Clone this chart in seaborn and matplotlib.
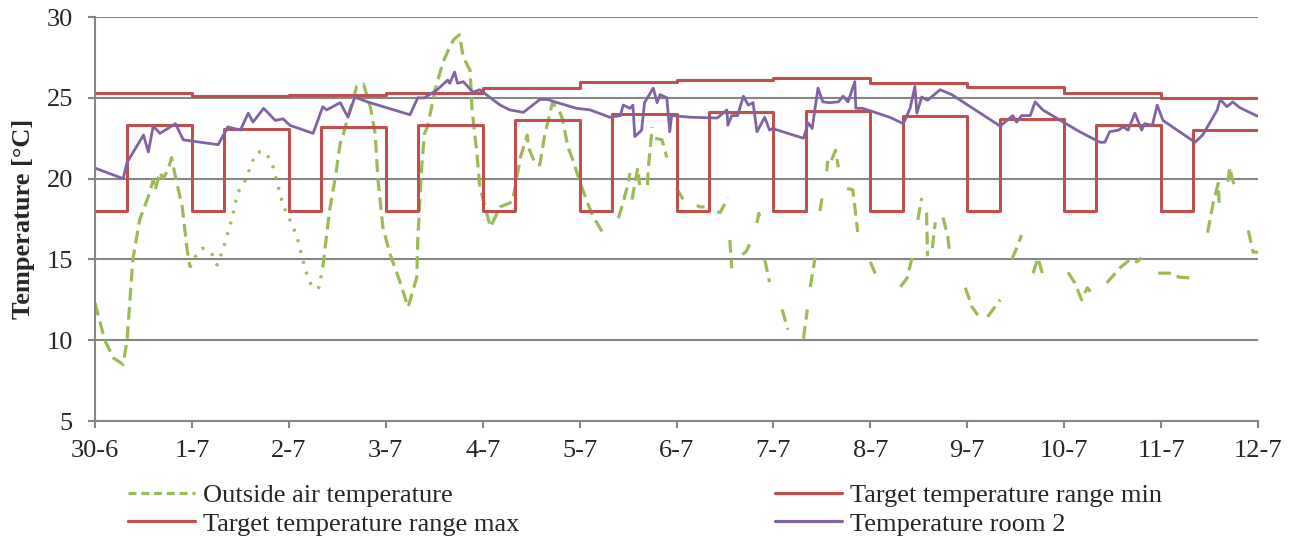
import matplotlib
matplotlib.use("Agg")
import matplotlib.pyplot as plt
from matplotlib.lines import Line2D
import seaborn as sns
import pandas as pd
import numpy as np

# ---- data -------------------------------------------------------------
DAY_LABELS = ["30-6", "1-7", "2-7", "3-7", "4-7", "5-7", "6-7",
              "7-7", "8-7", "9-7", "10-7", "11-7", "12-7"]

# setpoints: night (00-08h) min is 18, day (08-24h) min per day, max per day
SWITCH_HOUR = 8
NIGHT_MIN = 18.0
DAY_MIN = [23.3, 23.1, 23.2, 23.3, 23.6, 24.0, 24.1, 24.2, 23.9, 23.7, 23.3, 23.0]
DAY_MAX = [25.3, 25.1, 25.2, 25.3, 25.6, 26.0, 26.1, 26.2, 25.9, 25.7, 25.3, 25.0]

ROOM_DAY = [0.00, 0.29, 0.33, 0.50, 0.55, 0.60, 0.67, 0.83, 0.91, 1.27, 1.37,
            1.50, 1.58, 1.63, 1.74, 1.86, 1.94, 2.01, 2.25, 2.35, 2.39, 2.53,
            2.61, 2.68, 2.81, 3.25, 3.33, 3.40, 3.53, 3.64, 3.66, 3.71, 3.74,
            3.80, 3.90, 3.97, 4.18, 4.28, 4.42, 4.59, 4.67, 4.77, 4.97, 5.11,
            5.31, 5.42, 5.45, 5.52, 5.55, 5.57, 5.64, 5.67, 5.76, 5.80, 5.83,
            5.90, 5.93, 5.95, 6.14, 6.42, 6.52, 6.53, 6.57, 6.63, 6.69, 6.74,
            6.79, 6.83, 6.88, 6.91, 6.96, 6.99, 7.31, 7.36, 7.40, 7.46, 7.51,
            7.58, 7.67, 7.72, 7.77, 7.84, 7.85, 7.92, 8.20, 8.34, 8.41, 8.46,
            8.48, 8.53, 8.59, 8.72, 8.80, 8.84, 9.34, 9.47, 9.51, 9.56, 9.65,
            9.70, 9.78, 10.16, 10.37, 10.42, 10.47, 10.56, 10.61, 10.66, 10.73,
            10.80, 10.83, 10.91, 10.96, 11.02, 11.35, 11.43, 11.58, 11.61,
            11.68, 11.74, 11.81, 12.00]
ROOM_TEMP = [20.65, 20.0, 21.0, 22.7, 21.65, 23.25, 22.8, 23.4, 22.4, 22.1, 23.2,
             23.0, 24.05, 23.5, 24.35, 23.6, 23.7, 23.3, 22.8, 24.45, 24.25, 24.7,
             23.8, 25.05, 24.75, 23.95, 25.0, 25.0, 25.5, 26.1, 25.9, 26.6, 25.9,
             26.0, 25.35, 25.5, 24.55, 24.25, 24.1, 24.9, 24.9, 24.7, 24.35, 24.25,
             23.8, 23.9, 24.55, 24.35, 24.55, 22.6, 23.0, 24.7, 25.6, 24.7, 25.2,
             25.0, 22.9, 23.9, 23.8, 23.75, 24.25, 23.3, 23.9, 23.9, 25.1, 24.55,
             24.7, 22.9, 23.45, 23.8, 23.0, 23.1, 22.5, 23.45, 23.1, 25.6, 24.75,
             24.7, 24.75, 25.1, 24.75, 26.0, 24.35, 24.35, 23.8, 23.4, 24.35, 25.7,
             24.05, 25.05, 24.85, 25.5, 25.3, 25.2, 23.25, 23.9, 23.5, 23.9, 23.9,
             24.75, 24.25, 22.9, 22.25, 22.25, 22.9, 23.0, 23.2, 23.0, 24.05,
             23.0, 23.4, 23.3, 24.55, 23.6, 22.25, 22.7, 24.25, 24.9,
             24.45, 24.75, 24.4, 23.85]

# outside air: dotted stretch of the logger, then dashed with gaps (nan)
OUT_DOT_DAY = [0.98, 1.03, 1.11, 1.21, 1.26, 1.32, 1.41, 1.47, 1.55, 1.63, 1.68,
               1.75, 1.78, 1.84, 1.94, 2.01, 2.08, 2.17, 2.24, 2.31, 2.35]
OUT_DOT_TEMP = [14.5, 15.15, 15.7, 15.3, 14.65, 15.6, 17.45, 19.1, 19.9, 21.15, 21.65,
                21.65, 21.45, 20.65, 18.35, 17.45, 16.5, 14.35, 13.25, 13.25, 14.5]

OUT_DAY = [0.00, 0.10, 0.19, 0.29, 0.33, 0.39, 0.46, 0.55, 0.60, 0.62, 0.67,
           0.70, 0.75, 0.79, 0.83, 0.90, 0.95, 0.98, np.nan,
           2.35, 2.42, 2.48, 2.53, 2.56, 2.60, 2.65, 2.70, 2.77, 2.84, 2.89,
           2.92, 2.97, 3.04, 3.15, 3.23, 3.32, 3.33, 3.37, 3.40, 3.43, 3.51,
           3.59, 3.66, 3.70, 3.76, 3.80, 3.87, 3.89, 3.94, 3.97, 4.08, 4.18,
           4.30, 4.33, 4.39, 4.46, 4.47, 4.54, 4.59, 4.61, 4.64, 4.66, 4.72,
           4.80, 4.82, 4.88, 4.93, 5.02, 5.13, 5.21, 5.26, np.nan,
           5.40, 5.45, 5.50, 5.52, np.nan,
           5.54, 5.57, 5.60, 5.62, np.nan,
           5.70, 5.71, 5.75, np.nan,
           5.78, 5.85, 5.90, np.nan,
           6.00, 6.07, np.nan,
           6.21, 6.24, 6.29, np.nan,
           6.42, 6.45, 6.53, np.nan,
           6.55, 6.57, np.nan,
           6.68, 6.72, 6.76, np.nan,
           6.83, 6.85, 6.86, np.nan,
           6.91, 6.96, np.nan,
           7.09, 7.15, np.nan,
           7.31, 7.35, np.nan,
           7.38, 7.43, np.nan,
           7.48, 7.51, np.nan,
           7.55, 7.56, np.nan,
           7.60, 7.64, 7.67, np.nan,
           7.76, 7.82, 7.87, np.nan,
           8.00, 8.07, np.nan,
           8.31, 8.38, 8.43, np.nan,
           8.49, 8.53, np.nan,
           8.58, 8.59, np.nan,
           8.64, 8.67, np.nan,
           8.75, 8.80, 8.82, np.nan,
           8.98, 9.05, 9.11, np.nan,
           9.21, 9.34, np.nan,
           9.46, 9.51, 9.56, np.nan,
           9.68, 9.73, 9.78, np.nan,
           10.04, 10.11, 10.18, 10.24, 10.27, np.nan,
           10.44, 10.58, 10.68, 10.75, 10.80, np.nan,
           10.97, 11.09, 11.19, 11.32, np.nan,
           11.48, 11.54, 11.59, 11.60, np.nan,
           11.69, 11.71, 11.73, 11.76, np.nan,
           11.90, 11.95, 12.00]
OUT_TEMP = [12.3, 10.0, 8.9, 8.5, 10.0, 15.0, 17.45, 18.9, 19.9, 19.3, 20.4,
            20.0, 20.5, 21.3, 20.1, 18.25, 15.6, 14.5, np.nan,
            14.5, 18.05, 20.1, 22.2, 22.7, 23.6, 24.65, 25.7, 25.85, 24.45, 22.8,
            19.9, 17.0, 15.4, 13.55, 12.05, 13.9, 16.2, 20.7, 22.8, 23.2, 25.5,
            27.2, 28.15, 28.6, 28.9, 27.5, 26.7, 24.25, 21.6, 19.5, 17.0, 18.25,
            18.55, 19.3, 21.35, 22.7, 21.95, 20.95, 20.85, 21.6, 22.7, 23.2, 24.7,
            24.05, 23.75, 21.95, 21.15, 19.5, 17.75, 16.95, 16.4, np.nan,
            17.55, 18.55, 19.7, 20.35, np.nan,
            18.7, 19.7, 20.65, 19.6, np.nan,
            19.6, 20.7, 23.2, np.nan,
            22.5, 22.4, 21.3, np.nan,
            19.4, 18.7, np.nan,
            18.35, 18.25, 18.25, np.nan,
            17.95, 17.9, 18.8, np.nan,
            16.2, 14.45, np.nan,
            15.3, 15.5, 16.0, np.nan,
            17.25, 17.85, 17.3, np.nan,
            15.0, 13.6, np.nan,
            11.9, 10.65, np.nan,
            10.1, 11.9, np.nan,
            13.3, 15.1, np.nan,
            18.0, 19.1, np.nan,
            20.45, 21.1, np.nan,
            21.15, 21.75, 20.7, np.nan,
            19.4, 19.3, 16.7, np.nan,
            14.85, 13.85, np.nan,
            13.3, 13.85, 15.1, np.nan,
            17.45, 18.8, np.nan,
            17.9, 15.2, np.nan,
            15.7, 17.3, np.nan,
            17.6, 16.4, 15.3, np.nan,
            13.25, 12.05, 11.55, np.nan,
            11.45, 12.5, np.nan,
            15.0, 15.7, 16.5, np.nan,
            14.15, 15.1, 14.05, np.nan,
            14.2, 13.55, 12.5, 13.25, 13.0, np.nan,
            13.55, 14.5, 15.0, 14.85, 15.1, np.nan,
            14.15, 14.15, 13.9, 13.85, np.nan,
            16.65, 18.55, 19.7, 18.5, np.nan,
            19.8, 20.7, 20.1, 19.5, np.nan,
            16.8, 15.45, 15.45]

GREEN = "#9BBB59"
RED = "#C0504D"
PURPLE = "#8064A2"
GRID = "#868686"

# ---- tables -------------------------------------------------------------
n_days = len(DAY_MIN)
min_day, min_temp = [], []
for d in range(n_days):
    min_day += [d, d + SWITCH_HOUR / 24]
    min_temp += [NIGHT_MIN, DAY_MIN[d]]
min_day.append(n_days)
min_temp.append(DAY_MIN[-1])
setpoint_min = pd.DataFrame({"day": min_day, "temp": min_temp})
setpoint_max = pd.DataFrame({"day": list(range(n_days)) + [n_days],
                             "temp": DAY_MAX + [DAY_MAX[-1]]})

room = pd.DataFrame({"day": ROOM_DAY, "temp": ROOM_TEMP})

outside = pd.DataFrame({"day": OUT_DAY, "temp": OUT_TEMP})
outside["seg"] = outside["temp"].isna().cumsum()
outside = outside.dropna()
outside_dot = pd.DataFrame({"day": OUT_DOT_DAY, "temp": OUT_DOT_TEMP})

# ---- plot ---------------------------------------------------------------
sns.set_style("white")
plt.rcParams["font.family"] = ["Liberation Serif", "DejaVu Serif"]
plt.rcParams["font.size"] = 19

fig = plt.figure(figsize=(12.95, 5.42), dpi=100)
ax = fig.add_axes([0.0734, 0.2232, 0.8980, 0.7454])

sns.lineplot(data=outside, x="day", y="temp", units="seg", estimator=None,
             color=GREEN, lw=2.3, linestyle=(0, (4, 2)), ax=ax)
sns.lineplot(data=outside_dot, x="day", y="temp", estimator=None,
             color=GREEN, lw=2.3, linestyle=(0, (0.9, 2.6)), ax=ax)
sns.lineplot(data=setpoint_min, x="day", y="temp", estimator=None,
             color=RED, lw=2.2, drawstyle="steps-post", ax=ax)
sns.lineplot(data=setpoint_max, x="day", y="temp", estimator=None,
             color=RED, lw=2.2, drawstyle="steps-post", ax=ax)
sns.lineplot(data=room, x="day", y="temp", estimator=None,
             color=PURPLE, lw=2.0, ax=ax)

ax.set_xlim(0, 12)
ax.set_ylim(5, 30)
ax.set_xticks(range(len(DAY_LABELS)))
ax.set_xticklabels(DAY_LABELS)
ax.set_yticks(range(5, 31, 5))
ax.set_xlabel("")
ax.set_ylabel("Temperature [°C]", fontweight="bold", fontsize=19)
ax.yaxis.set_label_coords(-0.052, 0.5)

ax.grid(axis="y", color=GRID, lw=1.5)
ax.grid(axis="x", visible=False)
ax.set_axisbelow(True)
for side in ["top", "right"]:
    ax.spines[side].set_visible(False)
for side in ["left", "bottom"]:
    ax.spines[side].set_color(GRID)
    ax.spines[side].set_linewidth(1.5)
ax.tick_params(axis="x", direction="out", length=5, width=1.5, color=GRID,
               pad=9, labelsize=19, bottom=True)
ax.tick_params(axis="y", direction="out", length=5, width=1.5, color=GRID,
               pad=11, labelsize=19, left=True)

handles = [
    Line2D([], [], color=GREEN, lw=2.3, linestyle=(0, (2.5, 1.5))),
    Line2D([], [], color=RED, lw=2.3),
    Line2D([], [], color=RED, lw=2.3),
    Line2D([], [], color=PURPLE, lw=2.3),
]
labels = ["Outside air temperature", "Target temperature range max",
          "Target temperature range min", "Temperature room 2"]
fig.legend(handles, labels, loc="upper left", bbox_to_anchor=(0.0988, 0.108),
           ncol=2, frameon=False, fontsize=19, borderpad=0, borderaxespad=0,
           handlelength=2.54, handletextpad=0.3, columnspacing=9.7,
           labelspacing=0.2)

fig.savefig("out.png", dpi=100)
